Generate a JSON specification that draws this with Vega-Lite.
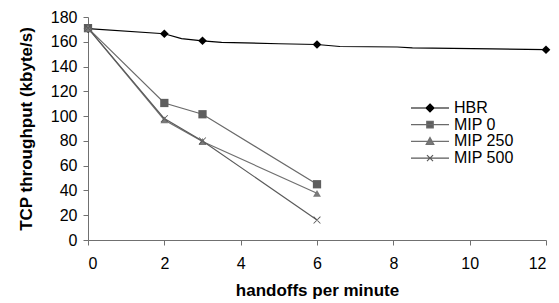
{
  "$schema": "https://vega.github.io/schema/vega-lite/v6.json",
  "width": 458,
  "height": 223,
  "autosize": "none",
  "padding": {"left": 88, "top": 17, "right": 13, "bottom": 63},
  "background": "white",
  "config": {
    "view": {"stroke": null},
    "font": "Liberation Sans",
    "axis": {
      "grid": false,
      "domainColor": "#707070",
      "tickColor": "#707070",
      "tickSize": 5,
      "labelFont": "Liberation Sans",
      "labelFontSize": 16,
      "labelColor": "#000",
      "titleFont": "Liberation Sans",
      "titleFontSize": 17,
      "titleFontWeight": "bold",
      "titleColor": "#000"
    },
    "legend": {
      "title": null,
      "orient": "none",
      "legendX": 322,
      "legendY": 83,
      "symbolSize": 1444,
      "symbolStrokeWidth": 1.2,
      "symbolOpacity": 1,
      "clipHeight": 16,
      "rowPadding": 0.7,
      "labelFont": "Liberation Sans",
      "labelFontSize": 16,
      "labelColor": "#000",
      "labelOffset": 4
    }
  },
  "data": {"values": [
    {"series": "HBR", "x": 0, "y": 170.6, "marker": true},
    {"series": "HBR", "x": 2, "y": 166.5, "marker": true},
    {"series": "HBR", "x": 2.45, "y": 162.5, "marker": false},
    {"series": "HBR", "x": 3, "y": 160.8, "marker": true},
    {"series": "HBR", "x": 3.5, "y": 159.5, "marker": false},
    {"series": "HBR", "x": 5, "y": 158.4, "marker": false},
    {"series": "HBR", "x": 6, "y": 157.8, "marker": true},
    {"series": "HBR", "x": 6.6, "y": 156.2, "marker": false},
    {"series": "HBR", "x": 8.1, "y": 155.8, "marker": false},
    {"series": "HBR", "x": 8.5, "y": 155, "marker": false},
    {"series": "HBR", "x": 10.6, "y": 154.2, "marker": false},
    {"series": "HBR", "x": 12, "y": 153.6, "marker": true},
    {"series": "MIP 0", "x": 0, "y": 171, "marker": true},
    {"series": "MIP 0", "x": 2, "y": 110.6, "marker": true},
    {"series": "MIP 0", "x": 3, "y": 101.5, "marker": true},
    {"series": "MIP 0", "x": 6, "y": 45, "marker": true},
    {"series": "MIP 250", "x": 0, "y": 171, "marker": true},
    {"series": "MIP 250", "x": 2, "y": 96.9, "marker": true},
    {"series": "MIP 250", "x": 3, "y": 79.5, "marker": true},
    {"series": "MIP 250", "x": 6, "y": 37.7, "marker": true},
    {"series": "MIP 500", "x": 0, "y": 171, "marker": true},
    {"series": "MIP 500", "x": 2, "y": 98, "marker": true},
    {"series": "MIP 500", "x": 3, "y": 80, "marker": true},
    {"series": "MIP 500", "x": 6, "y": 16.1, "marker": true}
  ]},
  "encoding": {
    "x": {"field": "x", "type": "quantitative",
      "scale": {"domain": [0, 12], "nice": false},
      "axis": {"values": [0, 2, 4, 6, 8, 10, 12], "title": "handoffs per minute", "labelPadding": 10, "titlePadding": 11}},
    "y": {"field": "y", "type": "quantitative",
      "scale": {"domain": [0, 180], "nice": false},
      "axis": {"values": [0, 20, 40, 60, 80, 100, 120, 140, 160, 180], "title": "TCP throughput (kbyte/s)", "labelPadding": 6, "titlePadding": 15}}
  },
  "layer": [
    {
      "mark": {"type": "line", "strokeWidth": 1.2},
      "encoding": {
        "color": {"field": "series", "type": "nominal",
          "scale": {"domain": ["HBR", "MIP 0", "MIP 250", "MIP 500"], "range": ["#000000", "#6a6a6a", "#707070", "#5a5a5a"]},
          "legend": null}
      }
    },
    {
      "transform": [{"filter": "datum.marker"}],
      "mark": {"type": "point", "filled": true, "opacity": 1, "strokeWidth": 0},
      "encoding": {
        "shape": {"field": "series", "type": "nominal",
          "scale": {"domain": ["HBR", "MIP 0", "MIP 250", "MIP 500"], "range": ["diamond", "square", "triangle-up", "M-1,-0.84L-0.84,-1L1,0.84L0.84,1Z M-1,0.84L-0.84,1L1,-0.84L0.84,-1Z"]},
          "legend": null},
        "size": {"field": "series", "type": "nominal",
          "scale": {"domain": ["HBR", "MIP 0", "MIP 250", "MIP 500"], "range": [75, 55, 65, 72]},
          "legend": null},
        "color": {"field": "series", "type": "nominal",
          "scale": {"domain": ["HBR", "MIP 0", "MIP 250", "MIP 500"], "range": ["#000000", "#5e5e5e", "#7a7a7a", "#555555"]},
          "legend": null}
      }
    },
    {
      "transform": [{"filter": "datum.marker"}],
      "mark": {"type": "point", "filled": true, "opacity": 0, "strokeWidth": 1.2},
      "encoding": {
        "color": {"field": "series", "type": "nominal",
          "scale": {"domain": ["HBR", "MIP 0", "MIP 250", "MIP 500"], "range": ["#000000", "#5e5e5e", "#7a7a7a", "#555555"]},
          "legend": {}},
        "stroke": {"field": "series", "type": "nominal",
          "scale": {"domain": ["HBR", "MIP 0", "MIP 250", "MIP 500"], "range": ["#000000", "#6a6a6a", "#707070", "#5a5a5a"]},
          "legend": {}},
        "shape": {"field": "series", "type": "nominal",
          "scale": {"domain": ["HBR", "MIP 0", "MIP 250", "MIP 500"],
            "range": [
              "M-1,0H1M0,-0.21L0.21,0L0,0.21L-0.21,0Z",
              "M-1,0H1M-0.17,-0.17H0.17V0.17H-0.17Z",
              "M-1,0H1M0,-0.2L0.2,0.16H-0.2Z",
              "M-1,0H1M-0.16,-0.16L0.16,0.16M-0.16,0.16L0.16,-0.16"
            ]},
          "legend": {}
        }
      }
    }
  ],
  "resolve": {
    "scale": {"shape": "independent", "color": "independent", "stroke": "independent"},
    "legend": {"shape": "independent", "color": "independent", "stroke": "independent"}
  }
}
